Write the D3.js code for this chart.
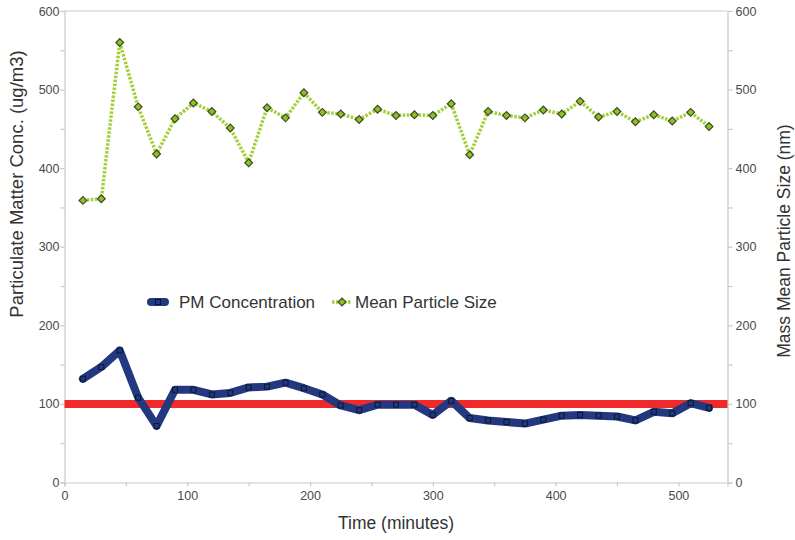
<!DOCTYPE html>
<html>
<head>
<meta charset="utf-8">
<script src="https://cdn.jsdelivr.net/npm/d3@7"></script>
<style>
  html, body { margin: 0; padding: 0; background: #fff; }
  svg { display: block; font-family: "Liberation Sans", Arial, sans-serif; }
</style>
</head>
<body>
<svg id="chart" width="795" height="540"></svg>
<script>
// Sampling times (minutes)
const times = [15, 30, 45, 60, 75, 90, 105, 120, 135, 150, 165, 180, 195, 210, 225, 240, 255, 270,
               285, 300, 315, 330, 345, 360, 375, 390, 405, 420, 435, 450, 465, 480, 495, 510, 525];

// Particulate matter concentration (ug/m3), left axis
const pmConcentration = [132, 147, 168, 108, 72, 118, 118, 112, 114, 121, 122, 127, 120, 112, 98, 92, 99, 99,
                         99, 86, 104, 82, 79, 77, 75, 80, 85, 86, 85, 84, 79, 90, 88, 101, 95];

// Mass mean particle size (nm), right axis
const meanParticleSize = [359, 361, 560, 478, 418, 463, 483, 472, 451, 407, 477, 464, 496, 471, 469, 462, 475, 467,
                          468, 467, 482, 417, 472, 467, 464, 474, 469, 485, 465, 472, 459, 468, 460, 471, 453];

// Reference limit drawn across the plot
const limitValue = 100;

const xTicks = [0, 50, 100, 150, 200, 250, 300, 350, 400, 450, 500];
const yTicks = [0, 50, 100, 150, 200, 250, 300, 350, 400, 450, 500, 550, 600];
const labelledX = [0, 100, 200, 300, 400, 500];
const labelledY = [0, 100, 200, 300, 400, 500, 600];

const legendLabels = ["PM Concentration", "Mean Particle Size"];

const svg = d3.select("#chart");

const x = d3.scaleLinear().domain([0, 540]).range([64.5, 727.5]);
const yLeft = d3.scaleLinear().domain([0, 600]).range([482.5, 11]);
const yRight = d3.scaleLinear().domain([0, 600]).range([482.5, 11]);

const axisColor = "#c9c9c9";
const labelColor = "#4a4a4a";

// Frame top line
svg.append("line")
  .attr("x1", x.range()[0]).attr("x2", x.range()[1])
  .attr("y1", yLeft.range()[1]).attr("y2", yLeft.range()[1])
  .attr("stroke", axisColor).attr("stroke-width", 1.2);

function styleAxis(g) {
  g.selectAll("path.domain").attr("stroke", axisColor).attr("stroke-width", 1.2);
  g.selectAll(".tick line").attr("stroke", axisColor).attr("stroke-width", 1.2);
  g.selectAll(".tick text").attr("fill", labelColor).style("font-size", "12.5px")
    .style("font-family", "'Liberation Sans', Arial, sans-serif");
}

const fmtX = d => labelledX.includes(d) ? d : "";
const fmtY = d => labelledY.includes(d) ? d : "";

svg.append("g")
  .attr("transform", `translate(0,${yLeft.range()[0]})`)
  .call(d3.axisBottom(x).tickValues(xTicks).tickFormat(fmtX).tickSize(4).tickPadding(5))
  .call(styleAxis);

svg.append("g")
  .attr("transform", `translate(${x.range()[0]},0)`)
  .call(d3.axisLeft(yLeft).tickValues(yTicks).tickFormat(fmtY).tickSize(4).tickPadding(1))
  .call(styleAxis);

svg.append("g")
  .attr("transform", `translate(${x.range()[1]},0)`)
  .call(d3.axisRight(yRight).tickValues(yTicks).tickFormat(fmtY).tickSize(5).tickPadding(3))
  .call(styleAxis);

// Limit line at 100 ug/m3
svg.append("line")
  .attr("x1", x.range()[0]).attr("x2", x.range()[1])
  .attr("y1", yLeft(limitValue)).attr("y2", yLeft(limitValue))
  .attr("stroke", "#f02a2a").attr("stroke-width", 8);

const navy = "#22397f";
const green = "#a3d03a";

// PM concentration line
const pmLine = d3.line().x((d, i) => x(times[i])).y(d => yLeft(d));
svg.append("path")
  .datum(pmConcentration)
  .attr("d", pmLine)
  .attr("fill", "none")
  .attr("stroke", navy)
  .attr("stroke-width", 8)
  .attr("stroke-linejoin", "round")
  .attr("stroke-linecap", "round");

svg.append("g").selectAll("rect")
  .data(pmConcentration)
  .join("rect")
  .attr("x", (d, i) => x(times[i]) - 2.5)
  .attr("y", d => yLeft(d) - 2.5)
  .attr("width", 5).attr("height", 5)
  .attr("fill", navy)
  .attr("stroke", "#0d1630").attr("stroke-width", 1);

// Mean particle size line
const sizeLine = d3.line().x((d, i) => x(times[i])).y(d => yRight(d));
svg.append("path")
  .datum(meanParticleSize)
  .attr("d", sizeLine)
  .attr("fill", "none")
  .attr("stroke", green)
  .attr("stroke-width", 3.5)
  .attr("stroke-dasharray", "2.5,1.5");

const diamond = d3.symbol().type(d3.symbolSquare).size(30);
svg.append("g").selectAll("path")
  .data(meanParticleSize)
  .join("path")
  .attr("d", diamond)
  .attr("transform", (d, i) => `translate(${x(times[i])},${yRight(d)}) rotate(45)`)
  .attr("fill", "#8cc21e")
  .attr("stroke", "#3d4a2a").attr("stroke-width", 1.2);

// Axis titles
svg.append("text")
  .attr("transform", `translate(23,184) rotate(-90)`)
  .attr("text-anchor", "middle")
  .attr("fill", "#333")
  .style("font-size", "18.5px")
  .text("Particulate Matter Conc. (ug/m3)");

svg.append("text")
  .attr("transform", `translate(790,241) rotate(-90)`)
  .attr("text-anchor", "middle")
  .attr("fill", "#333")
  .style("font-size", "17.5px")
  .text("Mass Mean Particle Size (nm)");

svg.append("text")
  .attr("x", 396).attr("y", 529)
  .attr("text-anchor", "middle")
  .attr("fill", "#333")
  .style("font-size", "17.5px")
  .text("Time (minutes)");

// Legend
const legend = svg.append("g");
legend.append("line")
  .attr("x1", 151).attr("x2", 165).attr("y1", 302).attr("y2", 302)
  .attr("stroke", navy).attr("stroke-width", 8).attr("stroke-linecap", "round");
legend.append("rect")
  .attr("x", 155.5).attr("y", 299.5).attr("width", 5).attr("height", 5)
  .attr("fill", navy).attr("stroke", "#0d1630").attr("stroke-width", 1);
legend.append("text")
  .attr("x", 179).attr("y", 308)
  .attr("fill", "#333").style("font-size", "17px")
  .text(legendLabels[0]);

legend.append("line")
  .attr("x1", 332).attr("x2", 352).attr("y1", 302).attr("y2", 302)
  .attr("stroke", green).attr("stroke-width", 3.5).attr("stroke-dasharray", "2.5,1.5");
legend.append("path")
  .attr("d", diamond)
  .attr("transform", "translate(342,302) rotate(45)")
  .attr("fill", "#8cc21e").attr("stroke", "#3d4a2a").attr("stroke-width", 1.2);
legend.append("text")
  .attr("x", 355).attr("y", 308)
  .attr("fill", "#333").style("font-size", "17px")
  .text(legendLabels[1]);
</script>
</body>
</html>
